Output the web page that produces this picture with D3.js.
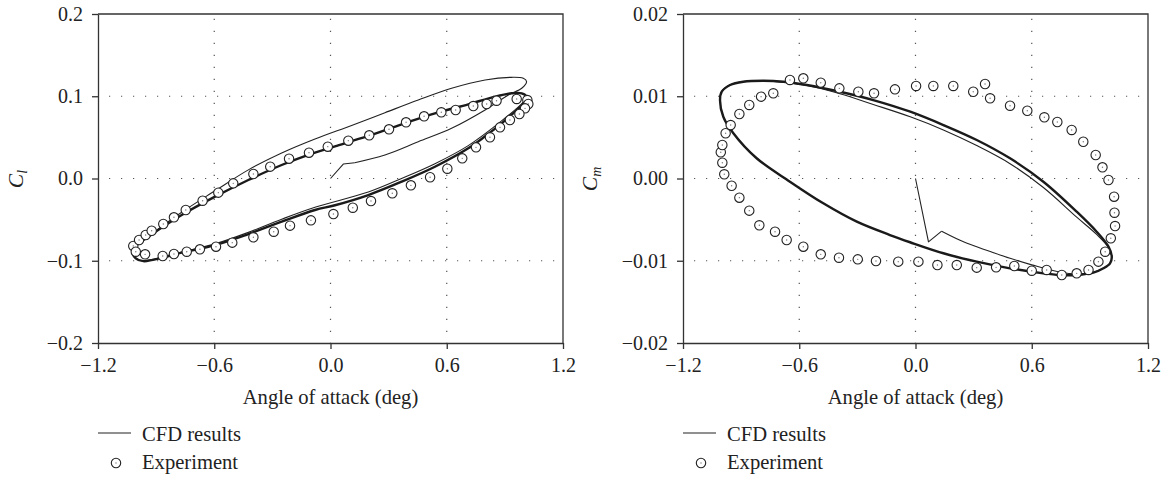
<!DOCTYPE html>
<html>
<head>
<meta charset="utf-8">
<script src="https://cdn.jsdelivr.net/npm/d3@7"></script>
<style>
  body { margin: 0; background: #fff; }
  svg text { font-family: "Liberation Serif", "DejaVu Serif", serif; fill: #222; }
</style>
</head>
<body>
<div id="chart"></div>
<script>
// axis ticks
var alphaTicks = [-1.2, -0.6, 0.0, 0.6, 1.2]
var clTicks = [-0.2, -0.1, 0.0, 0.1, 0.2]
var cmTicks = [-0.02, -0.01, 0.00, 0.01, 0.02]

// lift coefficient, CFD converged cycle [alpha, Cl]
var clCfdCycle = [
  [1.012, 0.0995], [0.987, 0.1036], [0.935, 0.1036], [0.849, 0.0995], [0.711, 0.0902],
  [0.539, 0.0793], [0.367, 0.0659], [0.195, 0.0517], [0.023, 0.0390], [-0.080, 0.0314],
  [-0.252, 0.0164], [-0.424, -0.0018], [-0.596, -0.0221], [-0.768, -0.0444], [-0.940, -0.0707],
  [-1.000, -0.0810], [-1.022, -0.0890], [-1.005, -0.0970], [-0.966, -0.1005], [-0.855, -0.0955],
  [-0.768, -0.0902], [-0.596, -0.0809], [-0.424, -0.0675], [-0.252, -0.0525], [-0.080, -0.0383],
  [0.023, -0.0325], [0.195, -0.0201], [0.367, -0.0039], [0.539, 0.0143], [0.711, 0.0367],
  [0.795, 0.0508], [0.883, 0.0671], [0.952, 0.0812], [0.995, 0.0914]
]
// lift coefficient, CFD start-up from rest (straight pieces)
var clCfdStart = [[0.000, 0.0000], [0.066, 0.0176], [0.125, 0.0192]]
// lift coefficient, CFD first cycle
var clCfdFirst = [
  [0.125, 0.0192], [0.281, 0.0286], [0.453, 0.0447],
  [0.625, 0.0610], [0.798, 0.0833], [0.918, 0.1015], [0.987, 0.1097], [1.012, 0.1178],
  [0.995, 0.1218], [0.935, 0.1230], [0.798, 0.1198], [0.625, 0.1097], [0.453, 0.0954],
  [0.281, 0.0800], [0.109, 0.0645], [-0.080, 0.0480], [-0.252, 0.0310], [-0.424, 0.0105],
  [-0.596, -0.0150], [-0.768, -0.0410], [-0.940, -0.0700], [-1.005, -0.0810], [-1.022, -0.0890],
  [-1.005, -0.0970], [-0.966, -0.1000], [-0.768, -0.0895], [-0.596, -0.0795], [-0.424, -0.0655],
  [-0.252, -0.0495], [-0.080, -0.0350], [0.195, -0.0165], [0.367, 0.0000], [0.539, 0.0180],
  [0.711, 0.0400], [0.883, 0.0700], [0.995, 0.0930], [1.012, 0.0995]
]
// lift coefficient, experiment
var clExp = [
  [-1.018, -0.0820], [-0.988, -0.0748], [-0.954, -0.0687], [-0.923, -0.0635], [-0.863, -0.0553],
  [-0.808, -0.0472], [-0.747, -0.0383], [-0.660, -0.0270], [-0.579, -0.0172], [-0.502, -0.0059],
  [-0.398, 0.0055], [-0.311, 0.0144], [-0.214, 0.0241], [-0.111, 0.0314], [-0.014, 0.0387],
  [0.092, 0.0460], [0.200, 0.0525], [0.302, 0.0598], [0.390, 0.0683], [0.483, 0.0756],
  [0.572, 0.0805], [0.646, 0.0833], [0.737, 0.0881], [0.806, 0.0906], [0.857, 0.0946],
  [0.961, 0.0967], [1.016, 0.0954], [1.021, 0.0906], [1.004, 0.0853], [0.975, 0.0784],
  [0.926, 0.0711], [0.875, 0.0622], [0.823, 0.0501], [0.751, 0.0379], [0.680, 0.0245],
  [0.603, 0.0119], [0.514, 0.0015], [0.415, -0.0083], [0.319, -0.0180], [0.209, -0.0274],
  [0.115, -0.0355], [0.015, -0.0432], [-0.101, -0.0509], [-0.209, -0.0573], [-0.293, -0.0647],
  [-0.398, -0.0715], [-0.507, -0.0780], [-0.591, -0.0829], [-0.674, -0.0861], [-0.742, -0.0890],
  [-0.808, -0.0918], [-0.866, -0.0942], [-0.957, -0.0922], [-1.005, -0.0890]
]

// moment coefficient, CFD converged cycle [alpha, Cm]
var cmCfdCycle = [
  [-1.009, 0.00950], [-1.000, 0.01055], [-0.957, 0.01137], [-0.889, 0.01177], [-0.785, 0.01189],
  [-0.682, 0.01177], [-0.561, 0.01137], [-0.390, 0.01055], [-0.218, 0.00954], [-0.027, 0.00812],
  [0.144, 0.00650], [0.316, 0.00468], [0.488, 0.00245], [0.660, -0.00039], [0.832, -0.00404],
  [0.935, -0.00647], [0.996, -0.00829], [1.013, -0.00951], [1.004, -0.01031], [0.970, -0.01092],
  [0.918, -0.01145], [0.832, -0.01173], [0.746, -0.01173], [0.660, -0.01153], [0.488, -0.01092],
  [0.316, -0.01011], [0.144, -0.00909], [-0.028, -0.00775], [-0.132, -0.00687], [-0.303, -0.00525],
  [-0.476, -0.00302], [-0.648, -0.00039], [-0.820, 0.00246], [-0.940, 0.00550], [-0.992, 0.00751]
]
// moment coefficient, CFD start-up from rest (straight pieces)
var cmCfdStart = [[0.000, 0.0000], [0.067, -0.0077], [0.135, -0.0064]]
// moment coefficient, CFD first cycle
var cmCfdFirst = [
  [0.135, -0.0064], [0.230, -0.0075], [0.316, -0.0083], [0.400, -0.0090],
  [0.488, -0.0097], [0.600, -0.0105], [0.746, -0.0114], [0.832, -0.0116], [0.918, -0.0114],
  [0.970, -0.0109], [1.004, -0.0103], [1.013, -0.0095], [0.996, -0.0084], [0.935, -0.0068],
  [0.832, -0.0047], [0.660, -0.0011], [0.488, 0.0018], [0.316, 0.0040], [0.144, 0.0059],
  [-0.027, 0.0075], [-0.218, 0.0090], [-0.390, 0.0103], [-0.561, 0.0113], [-0.682, 0.0117],
  [-0.785, 0.0119], [-0.889, 0.0118], [-0.957, 0.0114], [-1.000, 0.0106], [-1.009, 0.0095],
  [-0.992, 0.0075], [-0.940, 0.0055], [-0.820, 0.0025], [-0.648, -0.0004]
]
// moment coefficient, experiment
var cmExp = [
  [-0.734, 0.01036], [-0.648, 0.01198], [-0.579, 0.01218], [-0.489, 0.01165], [-0.393, 0.01096],
  [-0.295, 0.01055], [-0.214, 0.01036], [-0.106, 0.01084], [0.003, 0.01125], [0.092, 0.01125],
  [0.195, 0.01125], [0.298, 0.01055], [0.359, 0.01149], [0.385, 0.00975], [0.488, 0.00885],
  [0.577, 0.00824], [0.665, 0.00744], [0.732, 0.00687], [0.806, 0.00590], [0.866, 0.00447],
  [0.930, 0.00286], [0.965, 0.00136], [0.996, -0.00018], [1.025, -0.00221], [1.027, -0.00416],
  [1.030, -0.00578], [1.008, -0.00727], [0.979, -0.00890], [0.944, -0.01011], [0.893, -0.01112],
  [0.832, -0.01153], [0.755, -0.01173], [0.677, -0.01112], [0.600, -0.01121], [0.510, -0.01064],
  [0.416, -0.01080], [0.316, -0.01084], [0.213, -0.01052], [0.113, -0.01052], [0.015, -0.01011],
  [-0.089, -0.01011], [-0.204, -0.01003], [-0.298, -0.00983], [-0.395, -0.00963], [-0.489, -0.00922],
  [-0.579, -0.00829], [-0.665, -0.00748], [-0.725, -0.00647], [-0.806, -0.00569], [-0.858, -0.00391],
  [-0.909, -0.00233], [-0.949, -0.00088], [-0.987, 0.00051], [-0.997, 0.00192], [-1.005, 0.00319],
  [-0.997, 0.00407], [-0.980, 0.00550], [-0.954, 0.00650], [-0.909, 0.00784], [-0.858, 0.00894],
  [-0.797, 0.00995]
]

var width = 1165
var height = 477
var tickFont = 20
var labelFont = 20.6

var svg = d3.select("#chart").append("svg")
    .attr("width", width)
    .attr("height", height)
    .attr("viewBox", [0, 0, width, height])

function drawPanel(left, yTicks, yFormat, ySub, cycle, start, first, exp, titleX) {
    var top = 14, bottom = 343, right = left + 465
    var x = d3.scaleLinear([-1.2, 1.2], [left, right])
    var y = d3.scaleLinear([yTicks[0], yTicks[yTicks.length - 1]], [bottom, top])
    var g = svg.append("g")

    // dotted grid on the inner ticks
    g.append("g").selectAll("line")
        .data(alphaTicks.slice(1, -1))
        .join("line")
        .attr("x1", d => x(d)).attr("x2", d => x(d))
        .attr("y1", bottom).attr("y2", top)
        .attr("stroke", "#555").attr("stroke-width", 1.2)
        .attr("stroke-dasharray", "1.2,10.8")
        .attr("stroke-dashoffset", -11)
    g.append("g").selectAll("line")
        .data(yTicks.slice(1, -1))
        .join("line")
        .attr("x1", left).attr("x2", right)
        .attr("y1", d => y(d)).attr("y2", d => y(d))
        .attr("stroke", "#555").attr("stroke-width", 1.2)
        .attr("stroke-dasharray", "1.2,10.8")
        .attr("stroke-dashoffset", -11)

    // frame top and right
    g.append("path")
        .attr("d", `M${left},${top}H${right}V${bottom}`)
        .attr("fill", "none").attr("stroke", "#333").attr("stroke-width", 1.3)

    var xAxis = d3.axisBottom(x).tickValues(alphaTicks).tickFormat(d3.format(".1f"))
        .tickSize(6).tickSizeOuter(0).tickPadding(9)
    var yAxis = d3.axisLeft(y).tickValues(yTicks).tickFormat(d3.format(yFormat))
        .tickSize(6).tickSizeOuter(0).tickPadding(9)

    var ax = g.append("g").attr("transform", `translate(0,${bottom})`).call(xAxis)
    var ay = g.append("g").attr("transform", `translate(${left},0)`).call(yAxis)
    ;[ax, ay].forEach(a => {
        a.select(".domain").attr("stroke", "#333").attr("stroke-width", 1.3)
        a.selectAll(".tick line").attr("stroke", "#333").attr("stroke-width", 1.3)
        a.selectAll(".tick text").attr("font-size", tickFont)
            .attr("font-family", "Liberation Serif").attr("fill", "#222")
    })

    // CFD lines
    var line = d3.line().x(d => x(d[0])).y(d => y(d[1]))
    g.append("path")
        .attr("d", line.curve(d3.curveLinear)(start))
        .attr("fill", "none").attr("stroke", "#222").attr("stroke-width", 1.1)
        .attr("stroke-linejoin", "round")
    g.append("path")
        .attr("d", line.curve(d3.curveCatmullRom.alpha(0.5))(first))
        .attr("fill", "none").attr("stroke", "#222").attr("stroke-width", 1.1)
    g.append("path")
        .attr("d", line.curve(d3.curveCatmullRomClosed.alpha(0.5))(cycle))
        .attr("fill", "none").attr("stroke", "#1a1a1a").attr("stroke-width", 2.4)

    // experiment circles
    var pts = g.append("g").selectAll("g")
        .data(exp)
        .join("g")
        .attr("transform", d => `translate(${x(d[0])},${y(d[1])})`)
    pts.append("circle").attr("r", 4.7)
        .attr("fill", "#fff").attr("stroke", "#222").attr("stroke-width", 1.1)
    pts.append("circle").attr("r", 0.7).attr("fill", "#777")

    // axis titles
    g.append("text")
        .attr("x", (left + right) / 2).attr("y", 404)
        .attr("text-anchor", "middle").attr("font-size", labelFont)
        .text("Angle of attack (deg)")

    var yt = g.append("text")
        .attr("transform", `translate(${titleX},179) rotate(-90)`)
        .attr("text-anchor", "middle")
        .attr("font-size", labelFont + 1)
        .attr("font-style", "italic")
    yt.append("tspan").text("C")
    yt.append("tspan").attr("font-size", 14).attr("dy", 4).text(ySub)

    // legend
    var lg = g.append("g")
    lg.append("line")
        .attr("x1", left).attr("x2", left + 33)
        .attr("y1", 433).attr("y2", 433)
        .attr("stroke", "#222").attr("stroke-width", 1.2)
    lg.append("text").attr("x", left + 44).attr("y", 441)
        .attr("font-size", labelFont).text("CFD results")
    lg.append("circle").attr("cx", left + 18).attr("cy", 463).attr("r", 4.7)
        .attr("fill", "#fff").attr("stroke", "#222").attr("stroke-width", 1.1)
    lg.append("circle").attr("cx", left + 18).attr("cy", 463).attr("r", 0.7).attr("fill", "#777")
    lg.append("text").attr("x", left + 44).attr("y", 469)
        .attr("font-size", labelFont).text("Experiment")
}

drawPanel(98, clTicks, ".1f", "l", clCfdCycle, clCfdStart, clCfdFirst, clExp, 23)
drawPanel(683, cmTicks, ".2f", "m", cmCfdCycle, cmCfdStart, cmCfdFirst, cmExp, 597)
</script>
</body>
</html>
